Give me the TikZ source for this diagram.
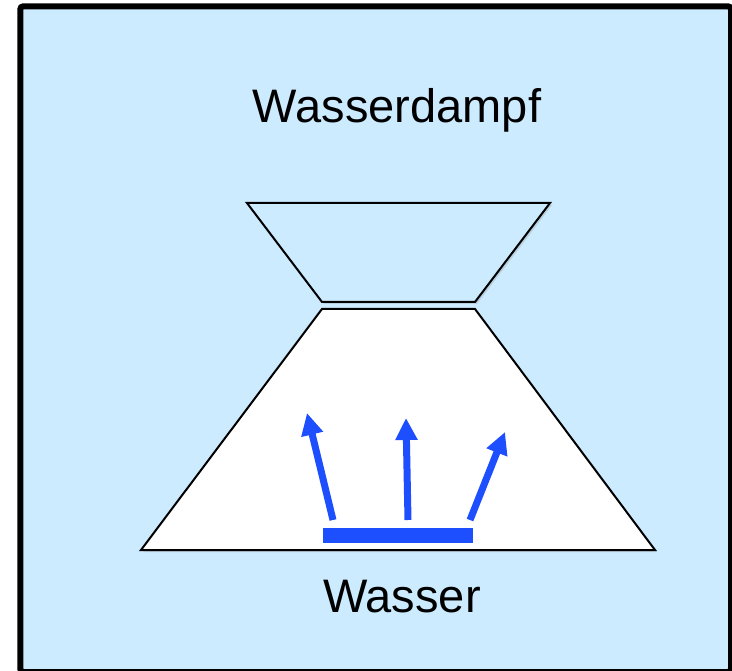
\documentclass[tikz,border=0pt]{standalone}
\usepackage{fontspec}
\setmainfont{Liberation Sans}
\usetikzlibrary{arrows.meta,shadows}
\definecolor{vpVapour}{HTML}{CCEBFF}
\definecolor{vpInk}{HTML}{000000}
\definecolor{vpFlow}{HTML}{1E4FFF}
\tikzset{
  vp diagram/.style={x=1pt, y=-1pt, line join=miter},
  vp frame/.style={draw=vpInk, fill=vpVapour, line width=6pt, rounded corners=3pt},
  vp funnel/.style={draw=vpInk, line width=2pt,
    drop shadow={shadow xshift=2pt, shadow yshift=-2pt, opacity=0.25}},
  vp arrow/.style={-{Triangle[length=22pt,width=21pt]}, draw=vpFlow, line width=7pt},
  vp surface/.style={draw=vpFlow, line width=15pt},
  vp label/.style={font=\fontsize{47}{50}\selectfont, text=vpInk, anchor=base}
}
\begin{document}
\begin{tikzpicture}[vp diagram]
\useasboundingbox (0,0) rectangle (732,671);
\draw[vp frame] (20.3,6.3) rectangle (731,672);
% upper funnel (vapour side) and lower funnel (liquid side)
\draw[vp funnel, fill=vpVapour] (247,203) -- (550,203) -- (475,302) -- (322,302) -- cycle;
\draw[vp funnel, fill=white] (322,309) -- (475,309) -- (655,550) -- (141,550) -- cycle;
% water surface with escaping molecules
\coordinate (surfL) at (323,535);
\coordinate (surfR) at (473,535);
\draw[vp surface] (surfL) -- (surfR);
\foreach \name/\sx/\tx/\ty in {left/333/307/413, mid/408/406/418, right/470/505/432}{
  \coordinate (foot-\name) at (\sx,520);
  \coordinate (tip-\name) at (\tx,\ty);
  \draw[vp arrow] (foot-\name) -- (tip-\name);
}
\node[vp label] (vapour) at (397,123) {Wasserdampf};
\node[vp label] (water) at (402,612) {Wasser};
\end{tikzpicture}
\end{document}
